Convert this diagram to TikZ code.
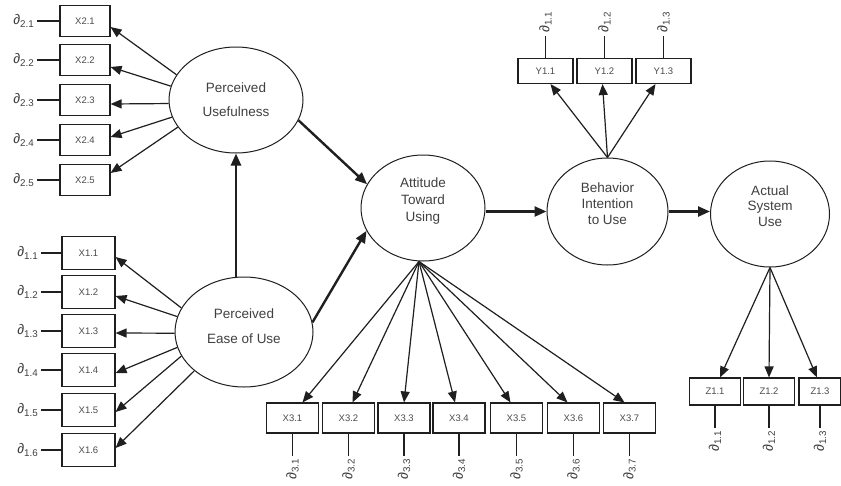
\documentclass[tikz,border=0pt]{standalone}
\usepackage{fontspec}
\setmainfont{Liberation Sans}
\usetikzlibrary{arrows.meta,shapes.geometric,calc}
\definecolor{linec}{gray}{0.12}
\definecolor{textc}{gray}{0.25}
\definecolor{boxtc}{gray}{0.3}
\newcommand{\dlab}[1]{\textit{∂}\textsubscript{#1}}
\begin{document}
\begin{tikzpicture}[x=1pt,y=-1pt,
  lat/.style={ellipse,draw=linec,line width=1pt,inner sep=0pt},
  lattext/.style={text=textc,align=center,inner sep=0pt},
  obs/.style={rectangle,draw=linec,line width=1.1pt,inner sep=0pt,text=boxtc,font=\fontsize{9.5}{10}\selectfont},
  xtwo/.style={obs,minimum width=50pt,minimum height=31pt},
  xone/.style={obs,minimum width=53pt,minimum height=33pt},
  xthree/.style={obs,minimum width=52pt,minimum height=30pt},
  yone/.style={obs,minimum width=55pt,minimum height=25pt},
  zone/.style={obs,minimum width=51pt,minimum height=27pt},
  load/.style={draw=linec,line width=1.2pt,-{Triangle[length=11pt,width=9pt]}},
  mainpath/.style={draw=linec,line width=2.4pt,-{Triangle[length=12pt,width=10pt]}},
  err/.style={draw=linec,line width=1.2pt},
  dl/.style={text=textc,inner sep=2.5pt,font=\fontsize{14}{14}\selectfont}]
\path[fill=white] (0,0) rectangle (841,485);
\useasboundingbox (0,0) rectangle (841,485);

% latent variables
\node[lat,minimum width=134pt,minimum height=106pt] (PU) at (236,100) {};
\node[lattext,font=\fontsize{13.5}{24}\selectfont] (PUt) at (236,100) {Perceived\\Usefulness};
\node[lat,minimum width=138pt,minimum height=110pt] (PEU) at (244,332) {};
\node[lattext,font=\fontsize{13.5}{25}\selectfont] (PEUt) at (244,326) {Perceived\\Ease of Use};
\node[lat,minimum width=124pt,minimum height=106pt] (ATU) at (423,208) {};
\node[lattext,font=\fontsize{13.5}{17}\selectfont] (ATUt) at (423,201) {Attitude\\Toward\\Using};
\node[lat,minimum width=121pt,minimum height=107pt] (BI) at (607.5,211.5) {};
\node[lattext,font=\fontsize{13.5}{16}\selectfont] (BIt) at (607.5,204) {Behavior\\Intention\\to Use};
\node[lat,minimum width=119pt,minimum height=106pt] (ASU) at (770,214) {};
\node[lattext,font=\fontsize{13.5}{15.5}\selectfont] (ASUt) at (770,206) {Actual\\System\\Use};

% X2 indicators
\node[xtwo] (x21) at (85,21) {X2.1};
\node[xtwo] (x22) at (85,60) {X2.2};
\node[xtwo] (x23) at (85,100) {X2.3};
\node[xtwo] (x24) at (85,140) {X2.4};
\node[xtwo] (x25) at (85,180) {X2.5};
% X1 indicators
\node[xone] (x11) at (88.5,253) {X1.1};
\node[xone] (x12) at (88.5,292) {X1.2};
\node[xone] (x13) at (88.5,331) {X1.3};
\node[xone] (x14) at (88.5,370) {X1.4};
\node[xone] (x15) at (88.5,410) {X1.5};
\node[xone] (x16) at (88.5,450) {X1.6};
% X3 indicators
\node[xthree] (x31) at (292.5,418) {X3.1};
\node[xthree] (x32) at (348.5,418) {X3.2};
\node[xthree] (x33) at (404,418) {X3.3};
\node[xthree] (x34) at (459,418) {X3.4};
\node[xthree] (x35) at (516.5,418) {X3.5};
\node[xthree] (x36) at (573.5,418) {X3.6};
\node[xthree] (x37) at (629.5,418) {X3.7};
% Y indicators
\node[yone] (y11) at (545.5,71) {Y1.1};
\node[yone] (y12) at (604.5,71) {Y1.2};
\node[yone] (y13) at (663.5,71) {Y1.3};
% Z indicators
\node[zone] (z11) at (715,391.5) {Z1.1};
\node[zone] (z12) at (769,391.5) {Z1.2};
\node[zone,minimum width=42pt] (z13) at (820,391.5) {Z1.3};

% structural paths
\draw[mainpath] (PU.south |- PEU.north) -- (PU.south);
\draw[mainpath] (PU.-18) -- (ATU.157);
\draw[mainpath] (PEU.8) -- (ATU.202);
\draw[mainpath] (BI.west -| ATU.east) -- (BI.west);
\draw[mainpath] (BI.east) -- (BI.east -| ASU.west);

% loadings PU
\draw[load] (PU.157) -- ([yshift=-6pt]x21.east);
\draw[load] (PU.168) -- ([yshift=-7pt]x22.east);
\draw[load] (PU.183) -- ([yshift=-4pt]x23.east);
\draw[load] (PU.195) -- ([yshift=3pt]x24.east);
\draw[load] (PU.205) -- ([yshift=7pt]x25.east);
% loadings PEU
\draw[load] (PEU.159) -- ([yshift=-4pt]x11.east);
\draw[load] (PEU.167) -- ([yshift=-4pt]x12.east);
\draw[load] (PEU.181) -- ([yshift=-2pt]x13.east);
\draw[load] (PEU.193) -- ([yshift=-3pt]x14.east);
\draw[load] (PEU.201) -- ([yshift=-2pt]x15.east);
\draw[load] (PEU.218) -- ([yshift=2pt]x16.east);
% loadings ATU
\coordinate (atub) at ([xshift=-4pt]ATU.south);
\draw[load] (atub) -- ([xshift=10pt]x31.north);
\draw[load] (atub) -- ([xshift=4pt]x32.north);
\draw[load] (atub) -- (x33.north);
\draw[load] (atub) -- ([xshift=-4pt]x34.north);
\draw[load] (atub) -- ([xshift=-6pt]x35.north);
\draw[load] (atub) -- ([xshift=-6pt]x36.north);
\draw[load] (atub) -- ([xshift=-5pt]x37.north);
% loadings BI
\draw[load] (BI.north) -- ([xshift=5pt]y11.south);
\draw[load] (BI.north) -- ([xshift=-2pt]y12.south);
\draw[load] (BI.north) -- ([xshift=-8pt]y13.south);
% loadings ASU
\draw[load] (ASU.south) -- ([xshift=5pt]z11.north);
\draw[load] (ASU.south) -- (z12.north);
\draw[load] (ASU.south) -- ([xshift=-3pt]z13.north);

% error terms X2
\draw[err] (x21.west) -- ++(-22,0) node[dl,anchor=east] (e21) {\dlab{2.1}};
\draw[err] (x22.west) -- ++(-22,0) node[dl,anchor=east] (e22) {\dlab{2.2}};
\draw[err] (x23.west) -- ++(-22,0) node[dl,anchor=east] (e23) {\dlab{2.3}};
\draw[err] (x24.west) -- ++(-22,0) node[dl,anchor=east] (e24) {\dlab{2.4}};
\draw[err] (x25.west) -- ++(-22,0) node[dl,anchor=east] (e25) {\dlab{2.5}};
% error terms X1
\draw[err] (x11.west) -- ++(-20,0) node[dl,anchor=east] (e11) {\dlab{1.1}};
\draw[err] (x12.west) -- ++(-20,0) node[dl,anchor=east] (e12) {\dlab{1.2}};
\draw[err] (x13.west) -- ++(-20,0) node[dl,anchor=east] (e13) {\dlab{1.3}};
\draw[err] (x14.west) -- ++(-20,0) node[dl,anchor=east] (e14) {\dlab{1.4}};
\draw[err] (x15.west) -- ++(-20,0) node[dl,anchor=east] (e15) {\dlab{1.5}};
\draw[err] (x16.west) -- ++(-20,0) node[dl,anchor=east] (e16) {\dlab{1.6}};
% error terms X3
\draw[err] (x31.south) -- ++(0,22) node[dl,rotate=90,anchor=east] (e31) {\dlab{3.1}};
\draw[err] (x32.south) -- ++(0,22) node[dl,rotate=90,anchor=east] (e32) {\dlab{3.2}};
\draw[err] (x33.south) -- ++(0,22) node[dl,rotate=90,anchor=east] (e33) {\dlab{3.3}};
\draw[err] (x34.south) -- ++(0,22) node[dl,rotate=90,anchor=east] (e34) {\dlab{3.4}};
\draw[err] (x35.south) -- ++(0,22) node[dl,rotate=90,anchor=east] (e35) {\dlab{3.5}};
\draw[err] (x36.south) -- ++(0,22) node[dl,rotate=90,anchor=east] (e36) {\dlab{3.6}};
\draw[err] (x37.south) -- ++(0,22) node[dl,rotate=90,anchor=east] (e37) {\dlab{3.7}};
% error terms Y
\draw[err] (y11.north) -- ++(0,-22) node[dl,rotate=90,anchor=west] (ey1) {\dlab{1.1}};
\draw[err] (y12.north) -- ++(0,-22) node[dl,rotate=90,anchor=west] (ey2) {\dlab{1.2}};
\draw[err] (y13.north) -- ++(0,-22) node[dl,rotate=90,anchor=west] (ey3) {\dlab{1.3}};
% error terms Z
\draw[err] (z11.south) -- ++(0,22) node[dl,rotate=90,anchor=east] (ez1) {\dlab{1.1}};
\draw[err] (z12.south) -- ++(0,22) node[dl,rotate=90,anchor=east] (ez2) {\dlab{1.2}};
\draw[err] (z13.south) -- ++(0,22) node[dl,rotate=90,anchor=east] (ez3) {\dlab{1.3}};
\end{tikzpicture}
\end{document}
